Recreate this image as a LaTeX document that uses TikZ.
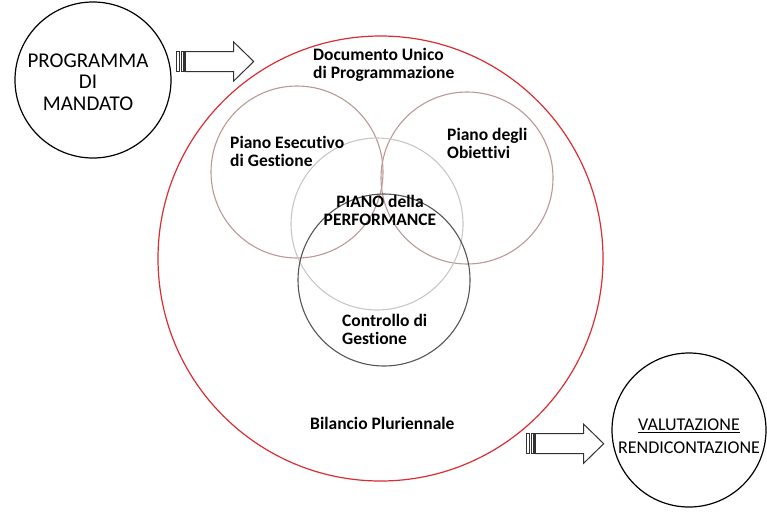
\documentclass[tikz,border=0pt]{standalone}
\usepackage{fontspec}
\setmainfont{Carlito}[Ligatures=CommonOff]
\definecolor{redc}{RGB}{218,45,50}
\definecolor{rosec}{RGB}{188,152,150}
\definecolor{lgrayc}{RGB}{200,198,198}
\definecolor{dgrayc}{RGB}{85,85,85}
\definecolor{arrc}{RGB}{50,50,50}
\begin{document}
\begin{tikzpicture}[x=1pt,y=-1pt,
  ring/.style={circle,draw,inner sep=0pt,line width=1.1pt},
  lbl/.style={font=\fontsize{17.5}{18}\selectfont\bfseries,inner sep=0pt,align=left,anchor=west},
  pics/stripedarrow/.style={code={
    \draw[arrc,line width=1.1pt,fill=white] (0,-10) rectangle (2.7,10);
    \draw[arrc,line width=1.1pt,fill=white] (4.6,-10) rectangle (7.3,10);
    \draw[arrc,line width=1pt,fill=white,line join=miter]
      (8.6,-10) -- (57,-10) -- (57,-19.5) -- (77,0) -- (57,19.5) -- (57,10) -- (8.6,10) -- cycle;
  }}]
\useasboundingbox (0,0) rectangle (767,512);
% outer circles
\node[ring,draw=black,line width=1.2pt,minimum size=156pt] (pm) at (93,80) {};
\node[ring,draw=black,line width=1.2pt,minimum size=154pt] (vr) at (689,430) {};
\node[ring,draw=redc,line width=1.2pt,minimum size=445pt] (dup) at (380.5,258.5) {};
% venn circles
\node[ring,draw=rosec,minimum size=172pt] (peg) at (297,172) {};
\node[ring,draw=rosec,minimum size=172pt] (pdo) at (467,178) {};
\node[ring,draw=lgrayc,minimum size=172pt] (pp) at (377,224) {};
\node[ring,draw=dgrayc,minimum size=172pt] (cdg) at (384,280) {};
% arrows
\pic at (176.7,61.5) {stripedarrow};
\pic at (526.7,443.7) {stripedarrow};
% texts
\node[font=\fontsize{21}{21.5}\selectfont,align=center,inner sep=0pt] (tpm) at (88,82) {PROGRAMMA\\DI\\MANDATO};
\node[font=\fontsize{18}{23}\selectfont,align=center,inner sep=0pt] (tvr) at (689,436) {\underline{VALUTAZIONE}\\RENDICONTAZIONE};
\node[lbl] (tdup) at (313,65) {Documento Unico\\di Programmazione};
\node[lbl] (tpeg) at (230,151) {Piano Esecutivo\\di Gestione};
\node[lbl] (tpdo) at (447,143) {Piano degli\\Obiettivi};
\node[lbl,align=center,anchor=center] (tpp) at (380,210) {PIANO della\\PERFORMANCE};
\node[lbl] (tcdg) at (342,329) {Controllo di\\Gestione};
\node[lbl] (tbp) at (310,423) {Bilancio Pluriennale};
\end{tikzpicture}
\end{document}
